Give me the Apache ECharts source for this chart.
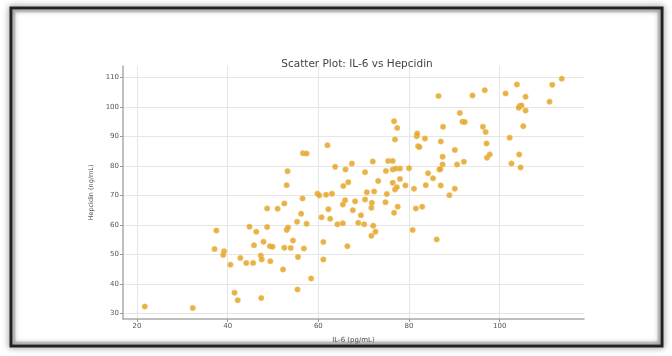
<!DOCTYPE html>
<html>
<head>
<meta charset="utf-8">
<script src="https://cdn.jsdelivr.net/npm/echarts@6/dist/echarts.min.js"></script>
<style>
html,body{margin:0;padding:0;background:#fff;}
#main{width:672px;height:356px;}
</style>
</head>
<body>
<div id="main"></div>
<script>
// IL-6 (pg/mL) values
var il6 = [21.7,32.3,37.5,37.1,39.2,39.0,40.6,41.5,42.2,42.8,44.1,45.6,44.8,46.3,45.8,47.3,47.5,47.4,47.9,49.3,49.9,49.4,48.7,48.7,51.0,
	53.0,52.5,56.5,53.0,53.3,55.3,56.2,57.4,54.4,53.9,52.5,56.8,55.5,52.2,55.4,58.4,61.1,61.1,66.4,59.8,60.2,61.7,63.0,60.7,62.2,
	62.6,64.2,65.4,65.4,65.5,66.6,65.9,67.6,68.1,68.8,70.1,69.4,70.3,70.7,71.8,71.7,72.1,71.7,72.6,72.3,73.2,75.1,74.8,76.7,77.5,
	76.4,76.9,77.3,79.2,81.1,81.5,82.9,80.8,83.7,86.1,87.0,88.9,90.1,
	62.0,56.6,57.4,53.2,63.7,66.0,67.4,70.3,72.0,75.4,76.4,74.9,76.4,77.1,78.0,76.9,81.7,82.0,77.4,80.0,78.0,76.7,
	113.7,111.6,111.0,103.8,101.3,105.7,104.4,104.8,104.2,105.7,105.2,102.2,104.3,102.6,104.6,96.7,94.0,86.5,91.2,91.8,92.3,96.3,
	96.9,97.1,97.8,97.2,87.5,87.0,90.1,92.1,90.6,87.4,87.4,86.7,86.9,84.2,85.3,81.8,83.5,82.3];
// Hepcidin (ng/mL) values
var hepcidin = [32.3,31.8,58.1,51.8,51.1,49.8,46.5,37.0,34.5,48.8,47.1,47.1,59.4,57.7,53.1,49.6,48.3,35.2,54.3,52.8,52.6,47.7,59.3,65.6,65.5,
	73.5,67.3,69.0,58.3,59.1,61.1,63.8,60.4,54.7,52.2,52.3,52.0,49.1,44.9,38.1,41.8,54.2,48.3,52.8,70.6,70.0,70.2,70.6,62.6,65.3,
	62.1,60.2,60.6,66.9,73.2,74.5,68.4,65.0,68.0,60.7,60.2,63.3,68.6,71.1,67.5,65.8,59.7,56.3,57.7,71.3,74.9,70.5,67.7,64.1,66.2,
	74.3,72.0,72.8,73.4,72.3,65.6,66.2,58.3,73.5,55.1,73.4,70.1,72.3,
	87.0,84.3,84.2,78.2,79.7,78.8,80.8,77.9,81.5,81.7,81.7,78.3,78.8,79.1,79.1,89.0,90.1,86.7,92.9,79.2,75.6,95.2,
	109.6,107.5,101.8,107.6,104.6,103.5,100.3,100.5,99.7,98.8,93.5,89.6,83.9,80.8,79.5,105.7,103.9,103.7,98.0,95.0,94.9,93.3,
	91.5,87.6,83.9,82.8,93.3,88.3,85.4,81.4,80.5,83.1,80.5,78.8,78.9,77.5,75.8,91.0,89.3,86.4];
var xTicks = [20,40,60,80,100];
var yTicks = [30,40,50,60,70,80,90,100,110];

var points = [];
for (var i = 0; i < il6.length; i++) {
	points.push([il6[i], hepcidin[i]]);
}

var chart = echarts.init(document.getElementById('main'));
var option = {
	backgroundColor: '#fff',
	animation: false,
	textStyle: { fontFamily: 'DejaVu Sans' },
	title: {
		text: 'Scatter Plot: IL-6 vs Hepcidin',
		left: 352, top: 54, textAlign: 'center',
		textStyle: { fontSize: 10.5, fontWeight: 'normal', color: '#444', fontFamily: 'DejaVu Sans' }
	},
	grid: { left: 123, right: 88, top: 66, bottom: 37 },
	xAxis: {
		type: 'value', min: 16.9, max: 118.6,
		name: 'IL-6 (pg/mL)', nameLocation: 'middle', nameGap: 18,
		nameTextStyle: { fontSize: 7, color: '#555' },
		axisLine: { lineStyle: { color: '#aaa', width: 1.5 } },
		axisTick: { show: true, length: 3, lineStyle: { color: '#999' }, customValues: xTicks },
		axisLabel: { fontSize: 7, color: '#555', margin: 4, customValues: xTicks },
		splitLine: { show: true, lineStyle: { color: '#e6e6e6', width: 1 } }
	},
	yAxis: {
		type: 'value', min: 28.1, max: 113.9,
		name: 'Hepcidin (ng/mL)', nameLocation: 'middle', nameGap: 28,
		nameTextStyle: { fontSize: 6.5, color: '#555' },
		axisLine: { show: true, lineStyle: { color: '#aaa', width: 1.5 } },
		axisTick: { show: true, length: 3, lineStyle: { color: '#999' }, customValues: yTicks },
		axisLabel: { fontSize: 7, color: '#555', margin: 4, customValues: yTicks },
		splitLine: { show: true, lineStyle: { color: '#e6e6e6', width: 1 } }
	},
	series: [{
		type: 'scatter',
		symbolSize: 5.5,
		itemStyle: { color: '#e3a52c', opacity: 0.85, borderColor: '#f2c45a', borderWidth: 0.6 },
		data: points
	}],
	graphic: [
		{ type: 'rect', shape: { x: 11, y: 8, width: 651, height: 338 },
			style: { fill: 'none', stroke: '#222', lineWidth: 3, shadowBlur: 6, shadowColor: 'rgba(0,0,0,0.6)' }, z: 100 },
		{ type: 'rect', shape: { x: 14, y: 11, width: 645, height: 332 },
			style: { fill: 'none', stroke: 'rgba(120,120,120,0.35)', lineWidth: 3 }, z: 100 }
	]
};
chart.setOption(option);
</script>
</body>
</html>
